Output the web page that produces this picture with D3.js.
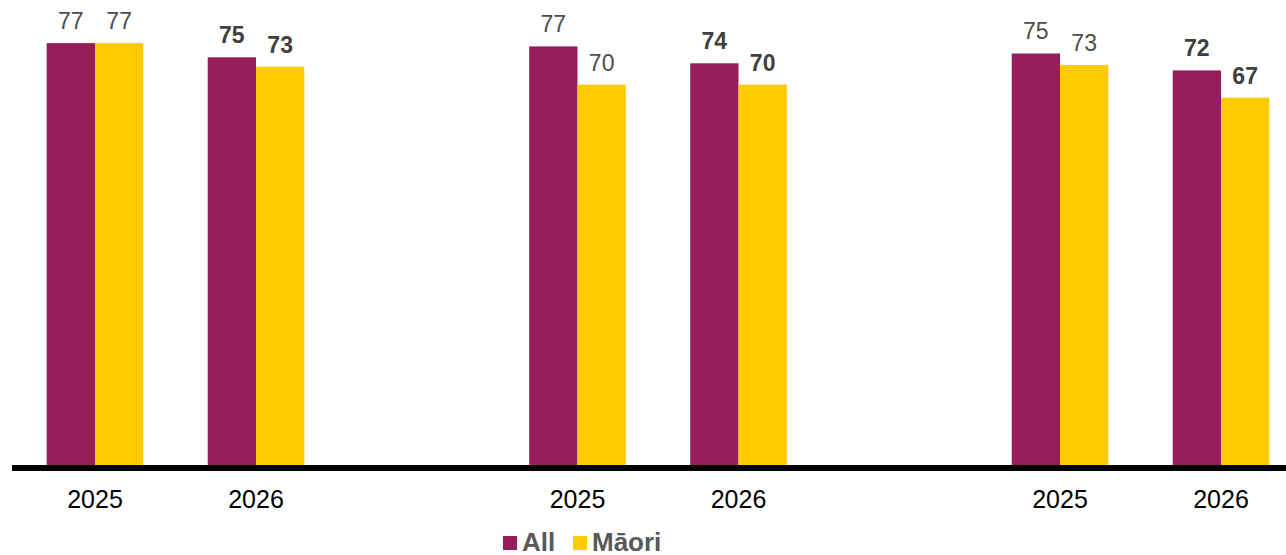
<!DOCTYPE html>
<html>
<head>
<meta charset="utf-8">
<script src="https://cdn.jsdelivr.net/npm/d3@7"></script>
<style>
  body { margin: 0; background: #fff; }
  svg { display: block; font-family: "Liberation Sans", Arial, sans-serif; }
</style>
</head>
<body>
<div id="chart"></div>
<script>
// data (bar heights; labels show rounded values)
const groups = ['g1', 'g2', 'g3'];
const years = ['2025', '2026'];
const seriesNames = ['All', 'Māori'];
const allValues = [[77.3, 74.7], [76.7, 73.6], [75.4, 72.3]];
const maoriValues = [[77.3, 73.0], [69.7, 69.7], [73.3, 67.3]];
const colors = ['#971e5a', '#ffca00'];

const width = 1286;
const height = 555;
const baseline = 465;

const svg = d3.select('#chart')
    .append('svg')
    .attr('width', width)
    .attr('height', height);

// scales
const xGroup = d3.scalePoint()
    .domain(groups)
    .range([175.5, 1140.5]);

const xYear = d3.scaleBand()
    .domain(years)
    .range([-161, 161]);

const xSeries = d3.scaleBand()
    .domain(seriesNames)
    .range([0, xYear.bandwidth()])
    .paddingOuter(0.667);

const y = d3.scaleLinear()
    .domain([0, 85.2])
    .range([baseline, 0]);

const fmt = d3.format('.0f');

// flatten rows
const rows = [];
groups.forEach((g, gi) => {
    years.forEach((yr, yi) => {
        rows.push({ group: g, year: yr, series: 'All', value: allValues[gi][yi], yi });
        rows.push({ group: g, year: yr, series: 'Māori', value: maoriValues[gi][yi], yi });
    });
});

const barX = d => xGroup(d.group) + xYear(d.year) + xSeries(d.series);

// bars
svg.selectAll('.bar')
    .data(rows)
    .enter()
    .append('rect')
    .attr('class', 'bar')
    .attr('x', barX)
    .attr('y', d => y(d.value))
    .attr('width', xSeries.bandwidth())
    .attr('height', d => baseline - y(d.value))
    .attr('fill', d => colors[seriesNames.indexOf(d.series)]);

// value labels
svg.selectAll('.val')
    .data(rows)
    .enter()
    .append('text')
    .attr('class', 'val')
    .attr('x', d => barX(d) + xSeries.bandwidth() / 2)
    .attr('y', d => y(d.value) - 14)
    .attr('text-anchor', 'middle')
    .attr('font-size', 23)
    .attr('font-weight', d => d.yi === 1 ? 'bold' : 'normal')
    .attr('fill', d => d.yi === 1 ? '#404040' : '#4d4d4d')
    .text(d => fmt(d.value));

// baseline axis
svg.append('line')
    .attr('x1', 12)
    .attr('x2', width)
    .attr('y1', baseline + 3)
    .attr('y2', baseline + 3)
    .attr('stroke', '#000')
    .attr('stroke-width', 6);

// year labels
groups.forEach(g => {
    const axis = d3.axisBottom(xYear).tickSize(0).tickPadding(0);
    const ax = svg.append('g')
        .attr('transform', `translate(${xGroup(g)},${baseline})`)
        .call(axis);
    ax.select('.domain').remove();
    ax.selectAll('text')
        .attr('dy', null)
        .attr('y', 43)
        .attr('font-size', 25)
        .attr('font-family', '"Liberation Sans", Arial, sans-serif')
        .attr('fill', '#000');
});

// legend
const legendItems = [
    { name: 'All', x: 503, color: colors[0] },
    { name: 'Māori', x: 573, color: colors[1] }
];
const legend = svg.selectAll('.legend')
    .data(legendItems)
    .enter()
    .append('g')
    .attr('class', 'legend')
    .attr('transform', d => `translate(${d.x},536)`);

legend.append('rect')
    .attr('width', 14)
    .attr('height', 14)
    .attr('fill', d => d.color);

legend.append('text')
    .attr('x', 19)
    .attr('y', 14.5)
    .attr('font-size', 26)
    .attr('font-weight', 'bold')
    .attr('fill', '#595959')
    .text(d => d.name);
</script>
</body>
</html>
